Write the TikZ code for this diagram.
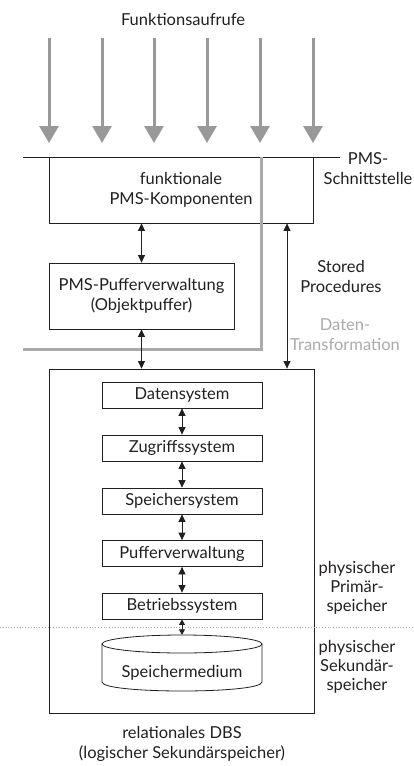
\documentclass[tikz,border=0pt]{standalone}
\usepackage{fontspec}
\setmainfont{Lato}
\usetikzlibrary{arrows.meta}
\definecolor{ink}{HTML}{231F20}
\definecolor{callgray}{HTML}{999999}
\definecolor{lightgray}{HTML}{AAAAAA}
\begin{document}
\begin{tikzpicture}[x=1pt,y=-1pt,
  every node/.style={text=ink,font=\fontsize{16.5}{20}\selectfont,align=center,inner sep=0pt},
  box/.style={draw=ink,line width=0.8pt},
  layer/.style={box,minimum width=160pt,minimum height=26pt},
  calls/.style={draw=callgray,line width=3pt,-{Triangle[width=19pt,length=17pt]}},
  dbl/.style={draw=ink,line width=0.8pt,{Triangle[width=7pt,length=7.5pt]}-{Triangle[width=7pt,length=7.5pt]}},
  shortdbl/.style={draw=ink,line width=0.8pt,{Triangle[width=6pt,length=5.5pt]}-{Triangle[width=6pt,length=5.5pt]}},
  graytext/.style={text=lightgray}]
\useasboundingbox (0,0) rectangle (413,766);

% incoming function calls
\node (calls) at (183,19) {Funktionsaufrufe};
\foreach \i/\x in {1/49,2/102,3/154,4/207,5/260,6/313}{
  \coordinate (ct\i) at (\x,38);
  \coordinate (cb\i) at (\x,143);
  \draw[calls] (ct\i) -- (cb\i);
}

% PMS interface line
\coordinate (ifl) at (23,157);
\coordinate (ifr) at (340,157);
\draw[ink,line width=0.8pt] (ifl) -- (ifr);
\node (iflabel) at (368,169) {PMS-\\Schnittstelle};

% PMS components
\node[box,minimum width=264pt,minimum height=66pt] (funk) at (181,190) {funktionale\\PMS-Komponenten};
\node[box,minimum width=185pt,minimum height=66pt] (pmspuf) at (141.5,296) {PMS-Pufferverwaltung\\(Objektpuffer)};

% data transformation boundary
\coordinate (gt) at (261,157);
\coordinate (gc) at (261,349);
\coordinate (gl) at (23,349);
\draw[lightgray,line width=3pt] (gt) -- (gc) -- (gl);

% relational DBS
\node[box,minimum width=265pt,minimum height=344pt] (dbs) at (181.5,541) {};
\node (ds) [layer] at (182,395) {Datensystem};
\node (zs) [layer] at (182,448) {Zugriffssystem};
\node (ss) [layer] at (182,501) {Speichersystem};
\node (pv) [layer] at (182,553.5) {Pufferverwaltung};
\node (bs) [layer] at (182,606) {Betriebssystem};

% storage medium (cylinder)
\node[minimum width=160pt,minimum height=57pt] (medium) at (182,663.5) {};
\draw[box] (102,644) -- (102,682)
  .. controls (102,694) and (262,694) .. (262,682) -- (262,644);
\draw[box] (182,644) ellipse [x radius=80pt, y radius=9pt];
\node (mediumtext) at (182,673) {Speichermedium};

% memory levels
\coordinate (dl) at (0,627);
\coordinate (dr) at (413,627);
\draw[lightgray,line width=0.8pt,dotted] (dl) -- (dr);

% connectors
\draw[dbl] (pmspuf.north) -- (pmspuf.north |- funk.south);
\draw[dbl] (pmspuf.south) -- (pmspuf.south |- dbs.north);
\coordinate (sp) at (287,300);
\draw[dbl] (sp |- dbs.north) -- (sp |- funk.south);
\draw[dbl] (ds) -- (zs);
\draw[dbl] (zs) -- (ss);
\draw[dbl] (ss) -- (pv);
\draw[dbl] (pv) -- (bs);
\draw[shortdbl] (bs) -- (medium.north);

% labels
\node (stored) at (341,276) {Stored\\Procedures};
\node[graytext] (trans) at (345,335) {Daten-\\Transformation};
\node[font=\fontsize{16.5}{19}\selectfont] (prim) at (357,588) {physischer\\Primär-\\speicher};
\node[font=\fontsize{16.5}{19}\selectfont] (sek) at (357,667) {physischer\\Sekundär-\\speicher};
\node (rdbs) at (182,744) {relationales DBS\\(logischer Sekundärspeicher)};
\end{tikzpicture}
\end{document}
